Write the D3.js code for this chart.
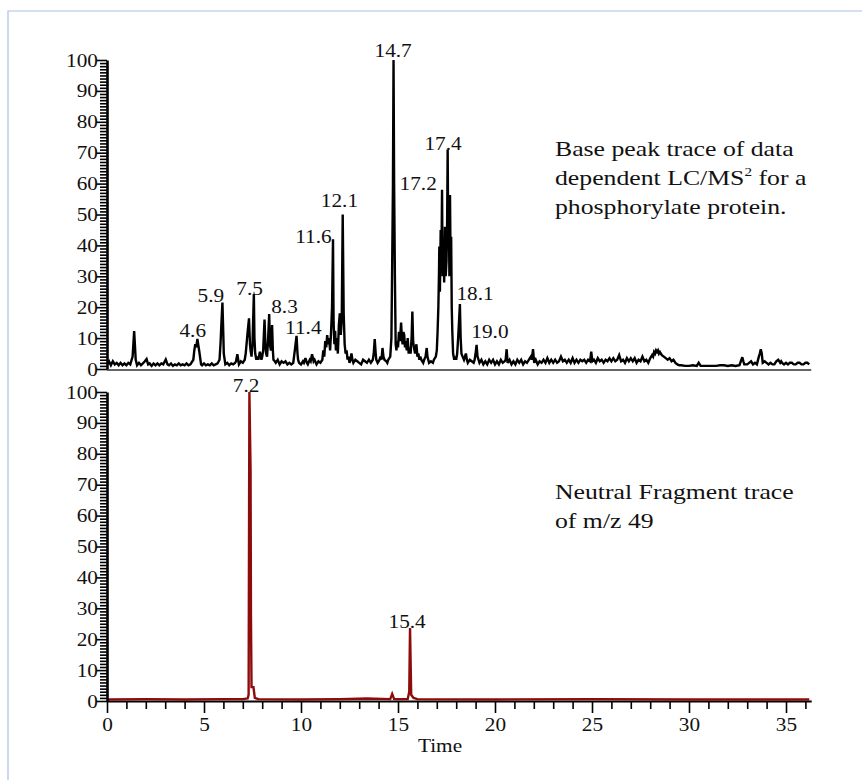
<!DOCTYPE html>
<html><head><meta charset="utf-8">
<script src="https://cdn.jsdelivr.net/npm/d3@7"></script>
<style>body{margin:0;background:#fff} svg{display:block} text{font-family:"Liberation Serif","Times New Roman",serif;fill:#111}</style>
</head><body><svg id="c" width="862" height="780"></svg>
<script>
// ---- data ----
const topTrace = [
[0.0,1.5],[0.1,2.5],[0.2,1.2],[0.3,2.5],[0.4,1.5],[0.5,2],[0.6,1.2],[0.7,2],[0.8,1.2],[0.9,1.8],[1.0,1.2],[1.1,2],[1.2,1.5],[1.32,4],[1.40,12.3],[1.48,3],[1.55,1.2],[1.65,2],[1.75,1.2],[1.85,1.8],[1.95,2.5],[2.04,3.2],[2.12,1.5],[2.2,1.8],[2.3,1],[2.4,1.8],[2.5,1.2],[2.6,1.8],[2.7,1.2],[2.8,1.8],[2.9,1.5],[3.03,3.1],[3.12,1.5],[3.2,1.2],[3.3,1.8],[3.4,1],[3.5,1.5],[3.6,1.2],[3.7,1.8],[3.8,1.2],[3.9,1.5],[4.0,1.2],[4.1,1.8],[4.2,1.2],[4.3,1.5],[4.45,3],[4.5,6],[4.55,8],[4.6,7],[4.66,9.7],[4.7,8],[4.75,6],[4.85,1.5],[4.9,1.2],[5.0,1.8],[5.1,1.2],[5.2,1.5],[5.3,1.2],[5.4,1.8],[5.5,1.2],[5.6,1.5],[5.7,1.8],[5.8,3],[5.85,8],[5.9,15],[5.95,21.5],[6.0,10],[6.02,5],[6.1,1.5],[6.2,2],[6.3,1.2],[6.4,1.8],[6.5,1.5],[6.6,2],[6.65,2.5],[6.72,4.8],[6.8,1.5],[6.9,2.5],[7.0,2],[7.1,3],[7.15,5],[7.25,12],[7.32,16.4],[7.37,8],[7.4,6],[7.45,4],[7.5,8],[7.57,24.3],[7.6,10],[7.64,5],[7.7,3],[7.75,4],[7.8,3],[7.88,5.6],[7.96,3],[8.0,4],[8.05,6],[8.12,16],[8.17,7],[8.2,5],[8.25,4],[8.3,9],[8.36,17.8],[8.4,8],[8.45,6],[8.51,14.2],[8.55,6],[8.58,3],[8.65,2.5],[8.7,2],[8.8,3],[8.9,1.5],[9.0,2.5],[9.1,2],[9.2,2.5],[9.3,1.5],[9.4,2],[9.5,1.5],[9.6,2],[9.7,7],[9.77,10.7],[9.82,5],[9.85,3],[9.9,2],[10.0,1.5],[10.1,2.5],[10.15,2],[10.23,3.5],[10.3,2],[10.35,1.5],[10.45,3],[10.5,2.5],[10.57,4.8],[10.65,2.5],[10.7,3],[10.8,1.5],[10.9,2.5],[11.0,2],[11.1,3],[11.15,6],[11.2,4],[11.25,9],[11.3,7],[11.35,11],[11.4,8],[11.45,10],[11.5,6],[11.55,12],[11.6,20],[11.65,42],[11.68,15],[11.72,8],[11.76,12.4],[11.8,6],[11.85,10],[11.9,5],[11.95,14],[12.0,18],[12.05,11],[12.1,16],[12.15,50],[12.2,18],[12.25,8],[12.3,5],[12.35,6],[12.4,3],[12.45,4],[12.5,2],[12.55,3],[12.6,5],[12.65,3],[12.7,2],[12.8,3],[12.9,2.5],[13.0,2],[13.1,1.5],[13.2,3],[13.3,2.5],[13.4,2],[13.5,3],[13.6,2],[13.7,3],[13.75,5],[13.8,9.7],[13.85,5],[13.88,3],[13.95,2],[14.0,2.5],[14.05,3],[14.1,4],[14.15,3],[14.2,6.8],[14.25,4],[14.3,3],[14.4,2.5],[14.45,2],[14.5,3],[14.6,4],[14.66,10],[14.7,34],[14.74,60],[14.77,100],[14.8,60],[14.84,30],[14.88,8],[14.92,6],[14.96,9],[15.0,7],[15.05,12],[15.1,9],[15.16,15],[15.2,10],[15.24,8],[15.28,12],[15.32,11],[15.36,7],[15.4,9],[15.45,6],[15.5,10],[15.55,5],[15.6,7],[15.65,5],[15.7,10],[15.74,18.6],[15.78,9],[15.82,7],[15.88,5],[15.95,8],[16.0,4],[16.05,5],[16.1,3],[16.15,4],[16.2,3],[16.3,2],[16.35,3],[16.42,4],[16.48,6.8],[16.52,4],[16.56,3],[16.6,2],[16.7,2.5],[16.8,2],[16.85,3],[16.95,4],[17.0,6],[17.04,12],[17.08,20],[17.11,30],[17.13,39.6],[17.16,25],[17.2,45],[17.24,35],[17.27,58],[17.3,30],[17.35,40],[17.38,28],[17.42,46],[17.46,30],[17.5,35],[17.53,45],[17.56,71],[17.59,40],[17.62,50],[17.65,30],[17.68,56.3],[17.71,35],[17.74,42.8],[17.77,20],[17.8,12],[17.84,5],[17.9,3],[17.95,4],[18.0,3],[18.05,5],[18.1,10],[18.15,16],[18.19,21],[18.23,10],[18.27,5],[18.33,4],[18.4,3],[18.45,4],[18.5,5],[18.55,3],[18.6,2],[18.7,3],[18.8,2.5],[18.9,2],[18.95,3],[19.0,5],[19.05,7.8],[19.1,4],[19.15,3],[19.2,2],[19.3,3],[19.4,1.5],[19.5,2.5],[19.6,1.5],[19.7,3],[19.8,2],[19.9,3],[20.0,1.5],[20.1,2.5],[20.2,1.5],[20.3,3],[20.4,2],[20.5,2.5],[20.55,3],[20.6,6.4],[20.65,2],[20.75,3],[20.85,1.5],[20.95,2.5],[21.05,1.5],[21.15,3],[21.25,2],[21.35,3],[21.45,1.5],[21.55,2.5],[21.65,2],[21.75,3],[21.85,4],[21.9,3],[21.96,6.4],[22.02,2],[22.1,3],[22.2,1.5],[22.3,2.5],[22.4,2],[22.5,3],[22.6,2],[22.7,3.5],[22.8,2],[22.9,3],[23.0,2],[23.1,3],[23.2,2],[23.3,2.5],[23.4,4],[23.5,2.5],[23.6,3],[23.7,2],[23.8,3],[23.9,2],[24.0,3.5],[24.1,2],[24.2,3],[24.3,2],[24.4,3],[24.5,2.5],[24.6,3],[24.7,2],[24.8,3],[24.9,2.5],[24.96,5.6],[25.02,2.5],[25.1,3],[25.2,2],[25.3,3.5],[25.4,2.5],[25.5,3],[25.6,2],[25.7,3],[25.8,2.5],[25.9,3.5],[26.0,2.5],[26.1,3.5],[26.2,2.5],[26.3,3],[26.4,4.5],[26.5,2.5],[26.6,3],[26.7,2],[26.8,3.5],[26.9,2.5],[27.0,3.5],[27.1,2.5],[27.2,3.5],[27.3,2],[27.4,3],[27.5,2.5],[27.6,4],[27.7,2.5],[27.8,3],[27.9,2],[28.0,3.5],[28.1,4.5],[28.15,4],[28.2,5.5],[28.25,5],[28.3,6],[28.35,5.5],[28.4,6],[28.45,5],[28.5,5.5],[28.6,4.5],[28.7,4],[28.8,3.5],[28.9,3],[29.0,3.5],[29.1,2.5],[29.2,3],[29.3,2],[29.4,1.5],[29.5,1.2],[29.6,1.2],[29.8,1],[30.0,1],[30.2,1.2],[30.4,1],[30.5,2],[30.6,1],[30.8,1],[31.0,1],[31.2,1],[31.4,1],[31.6,1.2],[31.8,1.2],[32.0,1],[32.2,1.2],[32.4,1],[32.6,1.2],[32.7,3],[32.75,3.8],[32.8,2.5],[32.85,1.5],[33.0,1.5],[33.1,2],[33.2,2.5],[33.3,1.5],[33.4,2],[33.5,1.5],[33.6,4],[33.65,5],[33.7,6.4],[33.75,5],[33.8,2],[33.9,2.5],[34.0,2],[34.1,1.5],[34.2,2],[34.3,1.5],[34.4,1.5],[34.5,2.5],[34.6,3],[34.7,2],[34.75,2.5],[34.8,2],[34.9,1.5],[35.0,2],[35.1,1.5],[35.2,2],[35.3,2],[35.4,1.5],[35.5,1.5],[35.6,2],[35.7,2],[35.8,1.5],[35.9,1.5],[36.0,2],[36.1,2],[36.2,1.5]
];
const bottomTrace = [
[0,0.5],[2,0.6],[4,0.5],[6,0.6],[7.0,0.6],[7.25,0.8],[7.3,2],[7.34,100],[7.40,75],[7.42,28],[7.45,4.5],[7.55,4.5],[7.62,1],[7.8,0.6],[10,0.5],[12,0.6],[13.4,0.8],[14.6,0.6],[14.7,2.3],[14.8,0.6],[15.5,0.6],[15.58,3],[15.62,23.6],[15.68,2],[15.8,1],[16,0.6],[20,0.5],[25,0.6],[30,0.5],[36.2,0.5]
];
const topLabels = [
{text:"14.7",t:14.75,v:101},{text:"17.4",t:17.32,v:70.9},{text:"17.2",t:16.04,v:57.9},
{text:"18.1",t:18.97,v:22.3},{text:"19.0",t:19.74,v:10.0},{text:"12.1",t:11.98,v:52.4},
{text:"11.6",t:10.64,v:40.8},{text:"5.9",t:5.35,v:21.7},{text:"7.5",t:7.35,v:23.9},
{text:"8.3",t:9.15,v:18.1},{text:"4.6",t:4.42,v:10.4},{text:"11.4",t:10.12,v:11.3}
];
const bottomLabels = [{text:"7.2",t:7.17,v:100},{text:"15.4",t:15.47,v:23.6}];
const yTickValues = d3.range(0,101,1);
const xTickValues = d3.range(0,37,1);
const xDomain = [0,36.3];
const topNote = ["Base peak trace of data", ["dependent LC/MS","2"," for a"], "phosphorylate protein."];
const bottomNote = ["Neutral Fragment trace", "of m/z 49"];
const xTitle = "Time";

// ---- drawing ----
const SX = 1.12;
const svg = d3.select("#c");
svg.append("path").attr("d","M8,790 L8,11 L870,11").attr("fill","none").attr("stroke","#a9c1e6").attr("stroke-width",1.2);

const x = d3.scaleLinear().domain(xDomain).range([107, 107+36.3*19.4]);
const yTop = d3.scaleLinear().domain([0,100]).range([369,60]);
const yBot = d3.scaleLinear().domain([0,100]).range([701,392]);

function yAxis(scale){
  const g = svg.append("g").attr("transform",`translate(${x(0)},0)`)
    .call(d3.axisLeft(scale).tickValues(yTickValues).tickSize(7).tickSizeOuter(0)
      .tickFormat(d=> d%10===0? d : ""));
  g.select(".domain").attr("stroke","#000").attr("stroke-width",2.6);
  g.selectAll(".tick line").attr("stroke","#000").attr("stroke-width",1.6)
    .attr("x2", d=> d%10===0? -11 : -7);
  g.selectAll(".tick text").attr("font-size",19).attr("x",-9/SX).attr("fill","#222")
    .attr("font-family","Liberation Serif").attr("transform",`scale(${SX},1)`);
  return g;
}

// top panel baseline
svg.append("line").attr("x1",x(0)).attr("x2",x(xDomain[1])).attr("y1",yTop(0)+1).attr("y2",yTop(0)+1)
  .attr("stroke","#666").attr("stroke-width",2);

const lineTop = d3.line().x(d=>x(d[0])).y(d=>yTop(d[1]));
svg.append("path").datum(topTrace).attr("d",lineTop).attr("fill","none").attr("stroke","#000")
  .attr("stroke-width",2.4).attr("stroke-linejoin","miter").attr("stroke-miterlimit",3);

// bottom x axis
const gx = svg.append("g").attr("transform",`translate(0,${yBot(0)})`)
  .call(d3.axisBottom(x).tickValues(xTickValues).tickSize(8).tickSizeOuter(0)
    .tickFormat(d=> d%5===0? d : ""));
gx.select(".domain").attr("stroke","#000").attr("stroke-width",2.2);
gx.selectAll(".tick line").attr("stroke","#000").attr("stroke-width",1.6).attr("y2", d=> d%5===0? 12 : 8);
gx.selectAll(".tick text").attr("font-size",19).attr("y",17).attr("fill","#222")
  .attr("font-family","Liberation Serif").attr("transform",`scale(${SX},1)`);

const lineBot = d3.line().x(d=>x(d[0])).y(d=>yBot(d[1]));
svg.append("path").datum(bottomTrace).attr("d",lineBot).attr("fill","none").attr("stroke","#8e0b0b")
  .attr("stroke-width",2.4);

yAxis(yTop);
yAxis(yBot);

function stext(px, py, str, size, anchor, sx){
  return svg.append("text").attr("transform",`translate(${px},${py}) scale(${sx},1)`)
    .attr("text-anchor",anchor).attr("font-size",size).text(str);
}
topLabels.forEach(l=> stext(x(l.t), yTop(l.v), l.text, 19, "middle", SX));
bottomLabels.forEach(l=> stext(x(l.t), yBot(l.v), l.text, 19, "middle", SX));

stext(440, 752, xTitle, 19, "middle", SX);

// notes
const NS = 22, NSX = 1.17;
topNote.forEach((ln,i)=>{
  const t = svg.append("text").attr("transform",`translate(555,${156+i*29}) scale(${NSX},1)`).attr("font-size",NS);
  if (Array.isArray(ln)){
    t.append("tspan").text(ln[0]);
    t.append("tspan").attr("font-size",13).attr("dy",-9).text(ln[1]);
    t.append("tspan").attr("dy",9).text(ln[2]);
  } else t.text(ln);
});
bottomNote.forEach((ln,i)=>{
  svg.append("text").attr("transform",`translate(555,${499+i*29}) scale(${NSX},1)`).attr("font-size",NS).text(ln);
});
</script></body></html>
